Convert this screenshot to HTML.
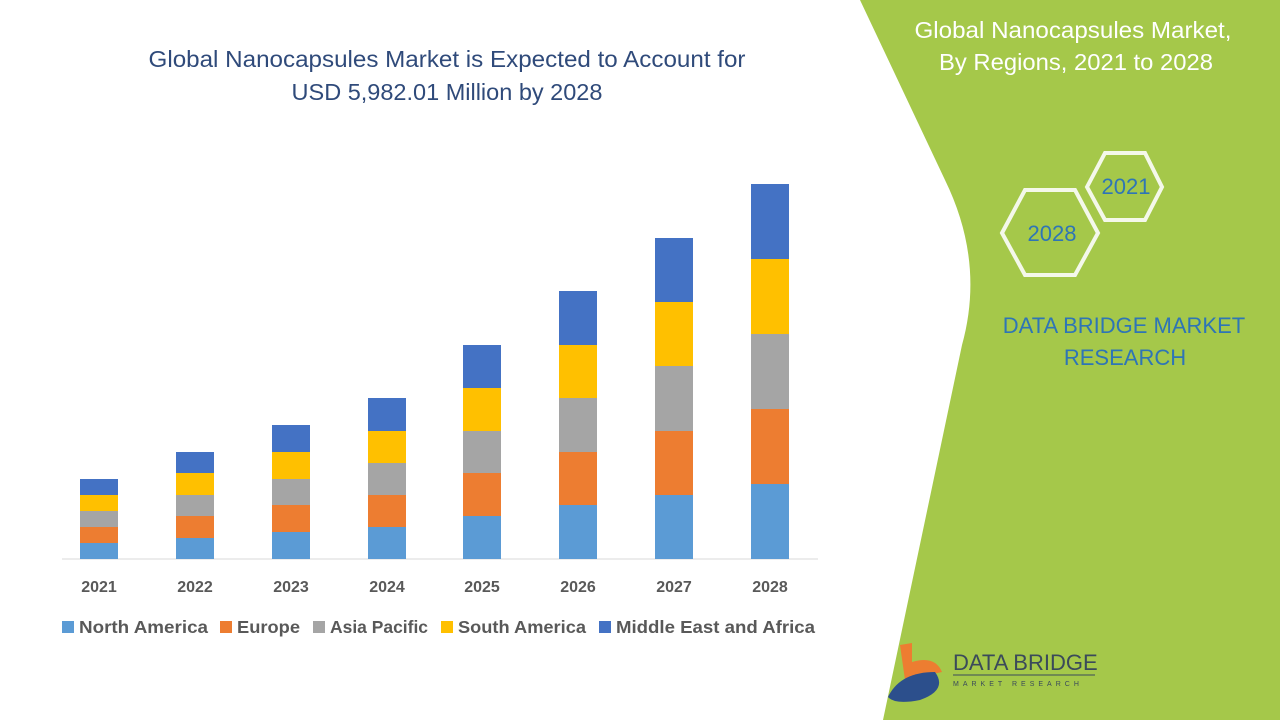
<!DOCTYPE html>
<html><head><meta charset="utf-8"><style>
html,body{margin:0;padding:0;}
body{width:1280px;height:720px;overflow:hidden;background:#fff;position:relative;font-family:"Liberation Sans",sans-serif;}
</style></head><body>
<svg width="1280" height="720" viewBox="0 0 1280 720" style="position:absolute;left:0;top:0">
<path d="M860,0 L945,180 Q985,262 962,345 L883,720 L1280,720 L1280,0 Z" fill="#a5c84a"/>
<text x="447" y="67" font-size="23.5" fill="#2f4a7a" text-anchor="middle" textLength="597" lengthAdjust="spacingAndGlyphs">Global Nanocapsules Market is Expected to Account for</text>
<text x="447" y="100" font-size="23.5" fill="#2f4a7a" text-anchor="middle">USD 5,982.01 Million by 2028</text>
<line x1="62" y1="559" x2="818" y2="559" stroke="#d9d9d9" stroke-width="1"/>
<g id="bars"></g>
<g font-size="16" font-weight="bold" fill="#595959" text-anchor="middle">
<text x="99" y="592">2021</text><text x="195" y="592">2022</text><text x="291" y="592">2023</text><text x="387" y="592">2024</text><text x="482" y="592">2025</text><text x="578" y="592">2026</text><text x="674" y="592">2027</text><text x="770" y="592">2028</text>
</g>
<g font-size="17.5" font-weight="bold" fill="#595959">
<rect x="62" y="621" width="12" height="12" fill="#5b9bd5"/><text x="79" y="633" textLength="129" lengthAdjust="spacingAndGlyphs">North America</text>
<rect x="220" y="621" width="12" height="12" fill="#ed7d31"/><text x="237" y="633" textLength="63" lengthAdjust="spacingAndGlyphs">Europe</text>
<rect x="313" y="621" width="12" height="12" fill="#a5a5a5"/><text x="330" y="633" textLength="98" lengthAdjust="spacingAndGlyphs">Asia Pacific</text>
<rect x="441" y="621" width="12" height="12" fill="#ffc000"/><text x="458" y="633" textLength="128" lengthAdjust="spacingAndGlyphs">South America</text>
<rect x="599" y="621" width="12" height="12" fill="#4472c4"/><text x="616" y="633" textLength="199" lengthAdjust="spacingAndGlyphs">Middle East and Africa</text>
</g>
<g font-size="23" fill="#fff" text-anchor="middle">
<text x="1073" y="38" textLength="317" lengthAdjust="spacingAndGlyphs">Global Nanocapsules Market,</text>
<text x="1076" y="70" textLength="274" lengthAdjust="spacingAndGlyphs">By Regions, 2021 to 2028</text>
</g>
<polygon points="1002,233 1025,190 1075,190 1098,233 1075,275 1025,275" fill="none" stroke="#f4f8ea" stroke-width="4"/>
<polygon points="1087,187 1105,153 1145,153 1162,187 1145,220 1105,220" fill="none" stroke="#f4f8ea" stroke-width="4"/>
<text x="1052" y="241" font-size="22" fill="#2e75b6" text-anchor="middle">2028</text>
<text x="1126" y="194" font-size="22" fill="#2e75b6" text-anchor="middle">2021</text>
<text x="1124" y="333" font-size="22" fill="#2e75b6" text-anchor="middle">DATA BRIDGE MARKET</text>
<text x="1125" y="365" font-size="22" fill="#2e75b6" text-anchor="middle">RESEARCH</text>
<path d="M900,645 L912,643 L912,662 Q935,655 942,672 L905,680 Z" fill="#ed7d31"/>
<path d="M888,697 Q900,672 935,672 Q948,690 920,700 Q895,705 888,697 Z" fill="#2c4f8c"/>
<text x="953" y="670" font-size="22" fill="#3a4a5a">DATA BRIDGE</text>
<line x1="953" y1="675" x2="1095" y2="675" stroke="#3a4a5a" stroke-width="1"/>
<text x="953" y="686" font-size="7" fill="#3a4a5a" letter-spacing="4">MARKET RESEARCH</text>
</svg>
<script>
var data=[[80,543,527,511,495,479],[176,538,516,495,473,452],[272,532,505,479,452,425],[368,527,495,463,431,398],[463,516,473,431,388,345],[559,505,452,398,345,291],[655,495,431,366,302,238],[751,484,409,334,259,184]];
var cols=["#5b9bd5","#ed7d31","#a5a5a5","#ffc000","#4472c4"];
var g=document.getElementById("bars"),s="";
data.forEach(function(d){var prev=559;for(var i=0;i<5;i++){s+='<rect x="'+d[0]+'" y="'+d[i+1]+'" width="38" height="'+(prev-d[i+1])+'" fill="'+cols[i]+'"/>';prev=d[i+1];}});
g.innerHTML=s;
</script>
</body></html>
